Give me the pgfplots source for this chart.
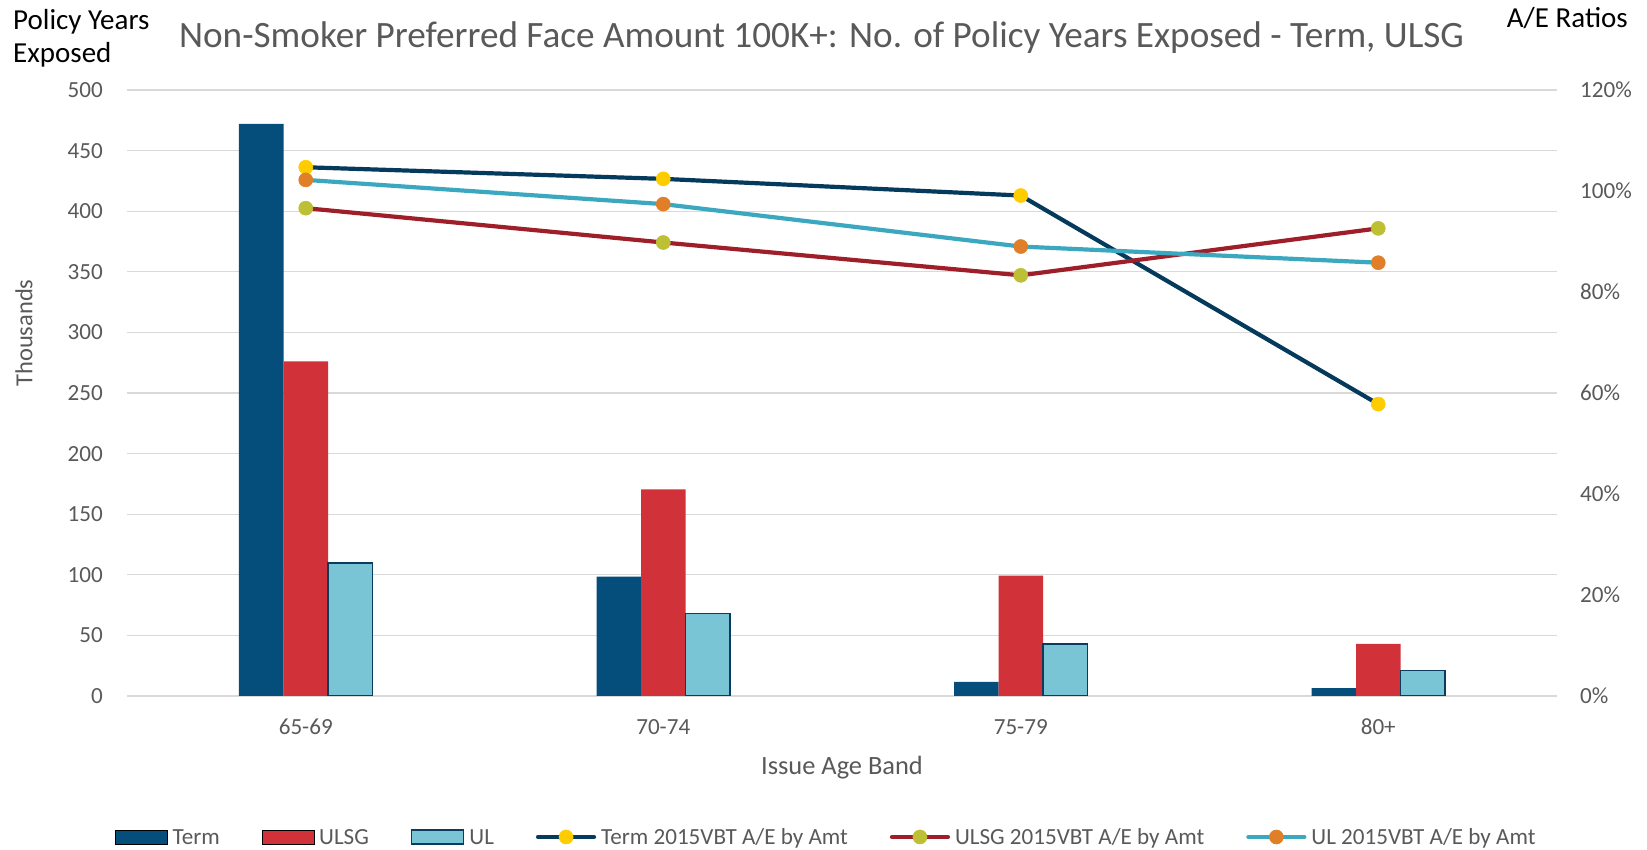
\documentclass[border=0pt]{standalone}
\usepackage{fontspec}
\setmainfont{Carlito}
\usepackage{pgfplots}
\pgfplotsset{compat=1.18}
\definecolor{termbar}{HTML}{054D7B}
\definecolor{ulsgbar}{HTML}{D13239}
\definecolor{ulbar}{HTML}{7AC5D5}
\definecolor{ulborder}{HTML}{0B3C5D}
\definecolor{termline}{HTML}{053A5C}
\definecolor{ulsgline}{HTML}{9E1F29}
\definecolor{ulline}{HTML}{3CA8C0}
\definecolor{mkyellow}{HTML}{FFCC00}
\definecolor{mkolive}{HTML}{BDC034}
\definecolor{mkorange}{HTML}{E07F27}
\definecolor{gridgray}{HTML}{D9D9D9}
\definecolor{txtgray}{HTML}{595959}
\newcommand\tickfont{\fontsize{23.1}{27}\selectfont}
\pgfplotsset{
  barleg/.style={legend image code/.code={\draw[##1] (0pt,-7pt) rectangle (52pt,7pt);}},
  lineleg/.style={legend image code/.code={\draw[mark repeat=2,mark phase=2,line cap=round,##1] plot coordinates {(0pt,0pt) (28pt,0pt) (56pt,0pt)};}},
}
\begin{document}
\begin{tikzpicture}
\path[use as bounding box] (-127pt,-154pt) rectangle (1520pt,696pt);
\begin{axis}[
  at={(0pt,0pt)}, anchor=south west, scale only axis, width=1430pt, height=606pt,
  xmin=-0.5, xmax=3.5, ymin=0, ymax=500,
  xtick={0,1,2,3}, xticklabels={65-69,70-74,75-79,80+},
  ytick={0,50,...,500},
  ymajorgrids, grid style={gridgray, line width=1.2pt},
  axis line style={draw=none},
  major tick length=0pt,
  tick label style={font=\tickfont, text=txtgray, inner sep=0pt},
  yticklabel style={anchor=east, xshift=-24pt},
  xticklabel style={anchor=north, yshift=-23pt},
  /pgf/number format/assume math mode=true,
  ybar=0pt, bar width=44.5pt,
]
\addplot[fill=termbar, draw=none] coordinates {(0,472) (1,98.4) (2,11.7) (3,6.4)};
\addplot[fill=ulsgbar, draw=none] coordinates {(0,276) (1,170.4) (2,99.4) (3,43)};
\addplot[fill=ulbar, draw=ulborder, line width=1.5pt] coordinates {(0,109.7) (1,68.2) (2,43) (3,21)};
\end{axis}
\begin{axis}[
  at={(0pt,0pt)}, anchor=south west, scale only axis, width=1430pt, height=606pt,
  xmin=-0.5, xmax=3.5, ymin=0, ymax=120,
  ytick={0,20,...,120},
  yticklabel={\pgfmathprintnumber{\tick}\%},
  axis y line*=right, axis x line=none,
  axis line style={draw=none},
  major tick length=0pt,
  tick label style={font=\tickfont, text=txtgray, inner sep=0pt},
  yticklabel style={anchor=west, xshift=23pt},
  /pgf/number format/assume math mode=true,
  legend columns=6,
  legend cell align=left,
  legend style={at={(-0.00839,-0.23267)}, anchor=west, draw=none, fill=none,
    inner sep=0pt, font=\tickfont, text=txtgray, column sep=5pt,
    nodes={inner sep=0pt, text height=15pt, text depth=0pt},
    /tikz/every even column/.append style={column sep=42pt}},
]
\addlegendimage{barleg, fill=termbar, draw=none}
\addlegendentry{Term}
\addlegendimage{barleg, fill=ulsgbar, draw=none}
\addlegendentry{ULSG}
\addlegendimage{barleg, fill=ulbar, draw=ulborder, line width=1.5pt}
\addlegendentry{UL}
\addplot[lineleg, termline, line width=4.2pt, mark=*, mark size=7pt, mark options={draw=mkyellow, fill=mkyellow, line width=0.6pt}] coordinates {(0,104.7) (1,102.4) (2,99.1) (3,57.8)};
\addlegendentry{Term 2015VBT A/E by Amt}
\addplot[lineleg, ulsgline, line width=4.2pt, mark=*, mark size=7pt, mark options={draw=mkolive, fill=mkolive, line width=0.6pt}] coordinates {(0,96.6) (1,89.8) (2,83.3) (3,92.6)};
\addlegendentry{ULSG 2015VBT A/E by Amt}
\addplot[lineleg, ulline, line width=4.2pt, mark=*, mark size=7pt, mark options={draw=mkorange, fill=mkorange, line width=0.6pt}] coordinates {(0,102.2) (1,97.4) (2,89.0) (3,85.8)};
\addlegendentry{UL 2015VBT A/E by Amt}
\end{axis}
\node[anchor=base, font=\fontsize{37.2}{41}\selectfont, text=txtgray, inner sep=0pt] at (694.5pt,648pt) {Non-Smoker Preferred Face Amount 100K+: No. of Policy Years Exposed - Term, ULSG};
\node[anchor=base west, font=\fontsize{29}{33}\selectfont, inner sep=0pt] at (-114pt,666pt) {Policy Years};
\node[anchor=base west, font=\fontsize{29}{33}\selectfont, inner sep=0pt] at (-114pt,633pt) {Exposed};
\node[anchor=base east, font=\fontsize{29}{33}\selectfont, inner sep=0pt] at (1501pt,668pt) {A/E Ratios};
\node[rotate=90, font=\fontsize{24.5}{28}\selectfont, text=txtgray, inner sep=0pt] at (-103pt,363pt) {Thousands};
\node[anchor=base, font=\fontsize{26.4}{30}\selectfont, text=txtgray, inner sep=0pt] at (715pt,-79pt) {Issue Age Band};
\end{tikzpicture}
\end{document}
